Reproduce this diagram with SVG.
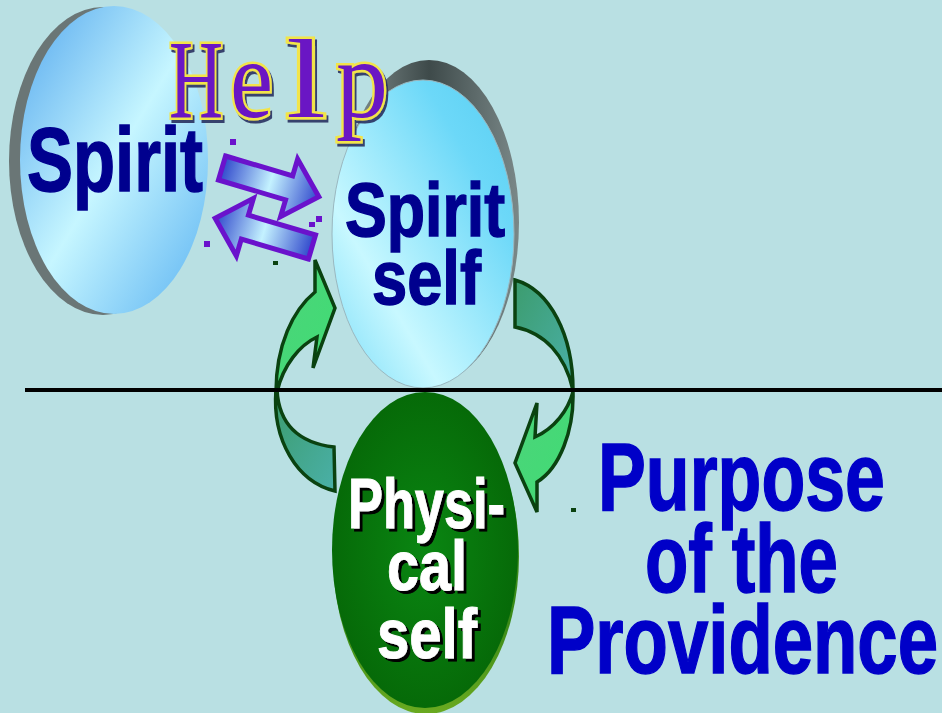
<svg xmlns="http://www.w3.org/2000/svg" width="942" height="713" viewBox="0 0 942 713">
<defs>
<linearGradient id="gBlue" x1="0" y1="0" x2="1" y2="1">
<stop offset="0" stop-color="#55a8ee"/>
<stop offset="0.5" stop-color="#c6f6ff"/>
<stop offset="1" stop-color="#5ab2f2"/>
</linearGradient>
<linearGradient id="gCyan" x1="0" y1="1" x2="1" y2="0">
<stop offset="0" stop-color="#78dcf8"/>
<stop offset="0.3" stop-color="#c8f8ff"/>
<stop offset="0.75" stop-color="#6cd8f8"/>
<stop offset="1" stop-color="#58cef2"/>
</linearGradient>
<linearGradient id="gRim" x1="0" y1="0" x2="1" y2="0">
<stop offset="0" stop-color="#8a9898"/>
<stop offset="0.5" stop-color="#3e4a4a"/>
<stop offset="1" stop-color="#7a8888"/>
</linearGradient>
<radialGradient id="gGreen" cx="0.5" cy="0.5" r="0.5">
<stop offset="0" stop-color="#0a8612"/>
<stop offset="1" stop-color="#066a08"/>
</radialGradient>
<linearGradient id="gOlive" x1="0" y1="0" x2="0" y2="1">
<stop offset="0.7" stop-color="#3a8a18"/>
<stop offset="1" stop-color="#6aaa20"/>
</linearGradient>
<linearGradient id="gArrow" x1="0" y1="0" x2="1" y2="0">
<stop offset="0" stop-color="#3048cc"/>
<stop offset="0.5" stop-color="#c4f2ff"/>
<stop offset="1" stop-color="#3048cc"/>
</linearGradient>
<linearGradient id="gLight" x1="0" y1="0" x2="1" y2="1">
<stop offset="0" stop-color="#4cd47a"/>
<stop offset="1" stop-color="#40dc74"/>
</linearGradient>
<linearGradient id="gDark" x1="0" y1="0" x2="1" y2="1">
<stop offset="0" stop-color="#3c9c6e"/>
<stop offset="1" stop-color="#4ab0a8"/>
</linearGradient>
<filter id="fShadow" x="-10%" y="-10%" width="130%" height="130%">
<feDropShadow dx="3" dy="3" stdDeviation="0" flood-color="#000000" flood-opacity="1"/>
</filter>
<filter id="fHelp" x="-10%" y="-10%" width="130%" height="130%">
<feDropShadow dx="2" dy="3" stdDeviation="0.6" flood-color="#283060" flood-opacity="0.9"/>
</filter>
</defs>
<style>
.navy{font-family:"Liberation Sans",Arial,sans-serif;font-weight:bold;fill:#00008e;stroke:#00008e;stroke-width:1.5}
.blue{font-family:"Liberation Sans",Arial,sans-serif;font-weight:bold;fill:#0000c8;stroke:#0000c8;stroke-width:1.5;font-size:96px}
.white{font-family:"Liberation Sans",Arial,sans-serif;font-weight:bold;font-size:71px;fill:#ffffff;stroke:#ffffff;stroke-width:1}
.help{font-family:"Liberation Serif","Times New Roman",serif;font-size:112px;fill:#6a12c4;stroke:#f2e44a;stroke-width:5;paint-order:stroke}
.garrow{stroke:#0a4210;stroke-width:3.5;stroke-linejoin:miter}
.parrow{fill:url(#gArrow);stroke:#6a12cc;stroke-width:5;stroke-linejoin:miter}
.dot{fill:#6a12cc}
.gdot{fill:#0a4210}
</style>
<rect x="0" y="0" width="942" height="713" fill="#b9e0e3"/>

<g id="node-spirit">
<ellipse cx="103" cy="161" rx="94" ry="154" fill="#6a7676"/>
<ellipse cx="114" cy="160" rx="94" ry="154" fill="url(#gBlue)"/>
<text class="navy" x="27" y="191" font-size="90" textLength="176" lengthAdjust="spacingAndGlyphs">Spirit</text>
</g>

<g id="node-spirit-self">
<ellipse cx="429" cy="222" rx="90" ry="162" fill="url(#gRim)"/>
<ellipse cx="423" cy="234" rx="91" ry="154" fill="url(#gCyan)" stroke="#9ab8c0" stroke-width="1"/>
<text class="navy" x="345" y="236" font-size="76" textLength="160" lengthAdjust="spacingAndGlyphs">Spirit</text>
<text class="navy" x="372" y="304" font-size="76" textLength="109" lengthAdjust="spacingAndGlyphs">self</text>
</g>

<g id="node-physical-self">
<ellipse cx="426" cy="556" rx="93" ry="158" fill="url(#gOlive)"/>
<ellipse cx="425" cy="550" rx="93" ry="158" fill="url(#gGreen)"/>
<g filter="url(#fShadow)">
<text class="white" x="348" y="528" textLength="157" lengthAdjust="spacingAndGlyphs">Physi-</text>
<text class="white" x="387" y="590" textLength="80" lengthAdjust="spacingAndGlyphs">cal</text>
<text class="white" x="377" y="658" textLength="100" lengthAdjust="spacingAndGlyphs">self</text>
</g>
</g>

<g id="label-help" filter="url(#fHelp)">
<text class="help" x="169" y="117" textLength="54" lengthAdjust="spacingAndGlyphs">H</text>
<text class="help" x="230" y="117" textLength="43" lengthAdjust="spacingAndGlyphs">e</text>
<text class="help" x="286" y="117" textLength="40" lengthAdjust="spacingAndGlyphs">l</text>
<text class="help" x="336" y="117" textLength="52" lengthAdjust="spacingAndGlyphs">p</text>
</g>

<g id="connectors">
<path class="parrow" d="M0,-12.5 L70,-12.5 L70,-30 L101,0 L70,30 L70,12.5 L0,12.5 Z" transform="translate(312,247) rotate(196.5)"/>
<path class="parrow" d="M0,-12.5 L70,-12.5 L70,-30 L101,0 L70,30 L70,12.5 L0,12.5 Z" transform="translate(222,168) rotate(16.5)"/>
<path class="garrow" fill="url(#gDark)" d="M277,390 C279,425 300,443 334,447 L335,491 C297,482 272,440 276,390 Z"/>
<path class="garrow" fill="url(#gLight)" d="M276,392 C276,345 293,310 315,292 L315,260 L335,308 L313,368 L317,337 C300,345 283,365 277,392 Z"/>
<path class="garrow" fill="url(#gDark)" d="M515,280 C550,290 573,335 573,390 C565,355 545,333 515,327 Z"/>
<path class="garrow" fill="url(#gLight)" d="M573,392 C574,430 560,468 537,482 L537,512 L515,463 L537,403 L535,437 C555,428 568,410 573,392 Z"/>
</g>

<g id="marks">
<rect class="dot" x="230" y="139" width="6" height="6"/>
<rect class="dot" x="204" y="241" width="6" height="6"/>
<rect class="dot" x="316" y="216" width="6" height="6"/>
<rect class="dot" x="309" y="222" width="6" height="5"/>
<rect class="gdot" x="273" y="261" width="5" height="4"/>
<rect class="gdot" x="571" y="508" width="5" height="4"/>
</g>

<g id="divider">
<line x1="25" y1="390" x2="942" y2="390" stroke="#000000" stroke-width="4"/>
</g>

<g id="label-purpose">
<text class="blue" x="598" y="510" textLength="287" lengthAdjust="spacingAndGlyphs">Purpose</text>
<text class="blue" x="645" y="592" textLength="193" lengthAdjust="spacingAndGlyphs">of the</text>
<text class="blue" x="547" y="673" textLength="391" lengthAdjust="spacingAndGlyphs">Providence</text>
</g>
</svg>
